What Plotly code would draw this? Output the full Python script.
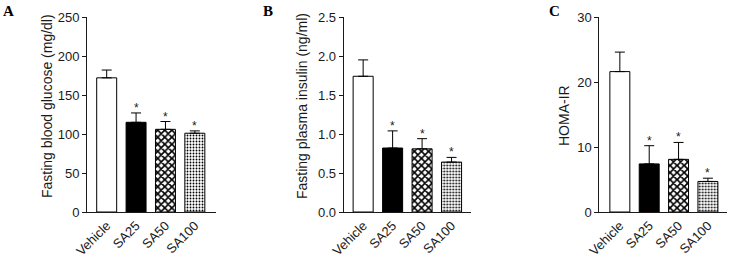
import plotly.graph_objects as go

W, H = 730, 257

categories = ["Vehicle", "SA25", "SA50", "SA100"]

glucose_mean = [172, 115, 106, 101]
glucose_err = [10, 12, 10, 3]

insulin_mean = [1.74, 0.82, 0.81, 0.64]
insulin_err = [0.21, 0.22, 0.13, 0.06]

homa_mean = [21.6, 7.4, 8.1, 4.7]
homa_err = [3.0, 2.8, 2.6, 0.5]

significant = ["", "*", "*", "*"]

glucose_ticks = [0, 50, 100, 150, 200, 250]
insulin_ticks = [0.0, 0.5, 1.0, 1.5, 2.0, 2.5]
homa_ticks = [0, 10, 20, 30]

panel_labels = ["A", "B", "C"]
y_titles = ["Fasting blood glucose (mg/dl)", "Fasting plasma insulin (ng/ml)", "HOMA-IR"]

SANS = "Liberation Sans, Arial, sans-serif"
SERIF = "Liberation Serif, Times New Roman, serif"
INK = "#1a1a1a"

# per-group fill styles (Vehicle, SA25, SA50, SA100)
styles = [
    dict(color="white", pattern=dict(shape="")),
    dict(color="black", pattern=dict(shape="")),
    dict(color="white", pattern=dict(shape="x", fgcolor="black", bgcolor="white",
                                     size=5, solidity=0.55, fillmode="replace")),
    dict(color="white", pattern=dict(shape=".", fgcolor="black", bgcolor="white",
                                     size=3, solidity=0.3, fillmode="replace")),
]

panels = [
    dict(mean=glucose_mean, err=glucose_err, ticks=glucose_ticks, yr=[0, 250], fmt="d",
         xpx=(87, 216), xr=[-0.67, 3.72]),
    dict(mean=insulin_mean, err=insulin_err, ticks=insulin_ticks, yr=[0, 2.5], fmt=".1f",
         xpx=(343.7, 471), xr=[-0.66, 3.66]),
    dict(mean=homa_mean, err=homa_err, ticks=homa_ticks, yr=[0, 30], fmt="d",
         xpx=(599.3, 727), xr=[-0.70, 3.65]),
]

ytop, ybot = 17, 212
ydom = [1 - ybot / H, 1 - ytop / H]

fig = go.Figure()
annotations = []
layout = {}

for i, p in enumerate(panels):
    sfx = "" if i == 0 else str(i + 1)
    xa, ya = "x" + sfx, "y" + sfx
    for j, c in enumerate(categories):
        st = styles[j]
        fig.add_trace(go.Bar(
            x=[c], y=[p["mean"][j]], xaxis=xa, yaxis=ya, width=0.68,
            marker=dict(color=st["color"], line=dict(color="black", width=1),
                        pattern=st["pattern"]),
            error_y=dict(type="data", symmetric=False, array=[p["err"][j]],
                         arrayminus=[0], width=5, thickness=1, color="black"),
            showlegend=False, hoverinfo="skip",
        ))
    layout["xaxis" + sfx] = dict(
        domain=[p["xpx"][0] / W, p["xpx"][1] / W], range=p["xr"], anchor=ya,
        type="category", categoryorder="array", categoryarray=categories,
        showline=True, linecolor=INK, linewidth=1, ticks="", tickangle=-45,
        tickfont=dict(family=SANS, size=13, color=INK), showgrid=False, zeroline=False,
        automargin=False,
    )
    layout["yaxis" + sfx] = dict(
        domain=ydom, range=p["yr"], anchor=xa, tickvals=p["ticks"], tickformat=p["fmt"],
        showline=True, linecolor=INK, linewidth=1, ticks="outside", ticklen=4,
        tickcolor=INK, tickfont=dict(family=SANS, size=13, color=INK),
        showgrid=False, zeroline=False, automargin=False,
    )
    for c, m, e, s in zip(categories, p["mean"], p["err"], significant):
        if s:
            annotations.append(dict(x=c, y=m + e, xref=xa, yref=ya, text=s, showarrow=False,
                                    yanchor="middle", yshift=5,
                                    font=dict(family=SANS, size=12, color=INK)))

ytitle_pos = [(47, 106), (302, 106), (564, 116)]
letter_pos = [(8, 11), (268, 11), (554, 11)]
for t, (px, py) in zip(y_titles, ytitle_pos):
    annotations.append(dict(x=px / W, y=1 - py / H, xref="paper", yref="paper", text=t,
                            textangle=-90, showarrow=False, xanchor="center", yanchor="middle",
                            font=dict(family=SANS, size=14, color=INK)))
for t, (px, py) in zip(panel_labels, letter_pos):
    annotations.append(dict(x=px / W, y=1 - py / H, xref="paper", yref="paper", text="<b>%s</b>" % t,
                            showarrow=False, xanchor="center", yanchor="middle",
                            font=dict(family=SERIF, size=15, color="black")))

fig.update_layout(
    template="none",
    width=W, height=H, margin=dict(l=0, r=0, t=0, b=0, autoexpand=False),
    paper_bgcolor="white", plot_bgcolor="white", barmode="overlay",
    annotations=annotations, **layout,
)

fig.write_html("out.html", config=dict(displayModeBar=False),
               post_script="document.body.style.margin='0';document.body.style.overflow='hidden';")
